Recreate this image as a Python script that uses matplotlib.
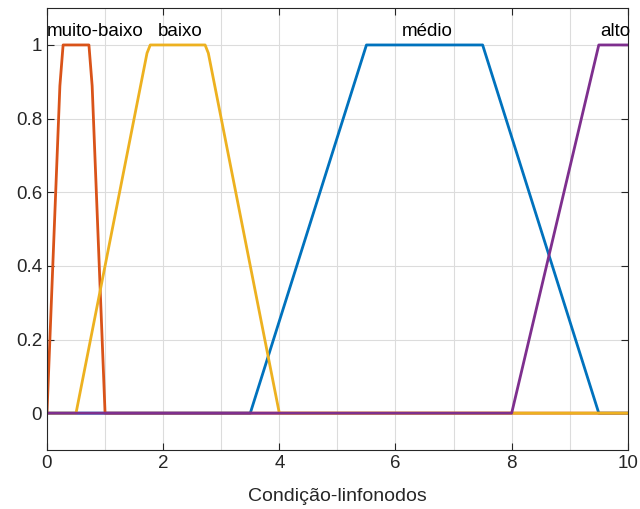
import numpy as np
import matplotlib
matplotlib.use("Agg")
import matplotlib.pyplot as plt
from matplotlib.ticker import MultipleLocator

plt.rcParams['font.family'] = ['Liberation Sans', 'DejaVu Sans']

# funções de pertinência trapezoidais (ordem de desenho igual ao MATLAB)
mf_names = ["médio", "muito-baixo", "baixo", "alto"]
mf_params = [[3.5, 5.5, 7.5, 9.5],
             [0.0, 0.25, 0.75, 1.0],
             [0.5, 1.75, 2.75, 4.0],
             [8.0, 9.5, 10.0, 10.0]]
mf_colors = ["#0072BD", "#D95319", "#EDB120", "#7E2F8E"]
x_range = [0, 10]
n_points = 181


def trapmf(x, p):
    a, b, c, d = p
    y = np.ones_like(x)
    if b > a:
        y = np.minimum(y, (x - a) / (b - a))
    else:
        y = np.where(x < a, 0.0, y)
    if d > c:
        y = np.minimum(y, (d - x) / (d - c))
    else:
        y = np.where(x > d, 0.0, y)
    return np.clip(y, 0, 1)


x = np.linspace(x_range[0], x_range[1], n_points)

fig = plt.figure(figsize=(6.4, 5.09), dpi=100)
ax = fig.add_axes([0.0734, 0.116, 0.9076, 0.868])

for name, p, col in zip(mf_names, mf_params, mf_colors):
    ax.plot(x, trapmf(x, p), color=col, lw=2)

# rótulos em cima de cada função
fs = 13.5
for name, p in zip(mf_names, mf_params):
    cx = (p[1] + p[2]) / 2
    if name == "muito-baixo":
        ax.text(x_range[0], 1.013, name, ha='left', va='bottom', fontsize=fs)
    elif name == "alto":
        ax.text(x_range[1] + 0.04, 1.013, name, ha='right', va='bottom', fontsize=fs)
    else:
        ax.text(cx + 0.05, 1.013, name, ha='center', va='bottom', fontsize=fs)

ax.set_xlim(x_range)
ax.set_ylim(-0.1, 1.1)
ax.xaxis.set_major_locator(MultipleLocator(2))
ax.xaxis.set_minor_locator(MultipleLocator(1))
ax.grid(True, which='both', axis='x', color='#dcdcdc', lw=0.8)
ax.grid(True, which='major', axis='y', color='#dcdcdc', lw=0.8)
ax.set_axisbelow(True)
ax.tick_params(which='major', direction='in', top=True, right=True, length=5,
               labelsize=fs, labelcolor='#262626', color='#262626')
ax.tick_params(which='minor', length=0)
ax.set_yticks([0, 0.2, 0.4, 0.6, 0.8, 1])
ax.set_yticklabels(["0", "0.2", "0.4", "0.6", "0.8", "1"])
for s in ax.spines.values():
    s.set_color('#262626')
ax.set_xlabel("Condição-linfonodos", fontsize=14, color='#262626', labelpad=12)

fig.savefig("out.png", dpi=100)
